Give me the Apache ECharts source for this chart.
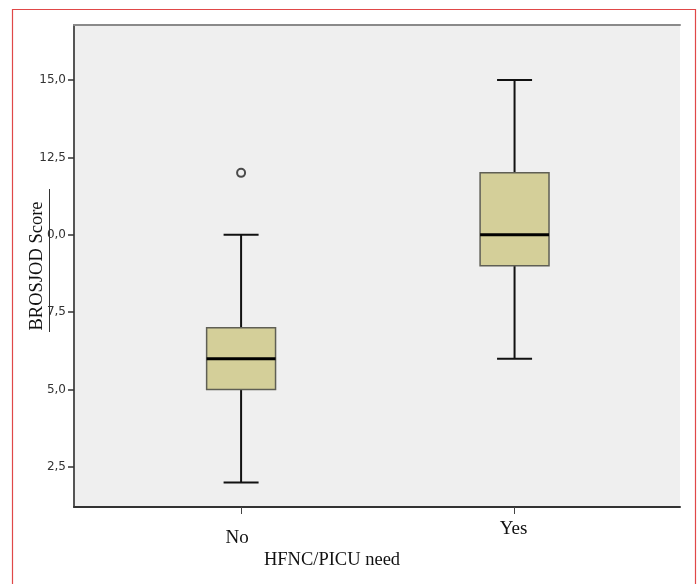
<!DOCTYPE html>
<html><head><meta charset="utf-8">
<script src="https://cdn.jsdelivr.net/npm/echarts@6/dist/echarts.min.js"></script>
<style>html,body{margin:0;padding:0;background:#fff}#c{width:698px;height:584px}</style>
</head><body><div id="c"></div>
<script>
// Data
const categories = ["No", "Yes"];
// [min, Q1, median, Q3, max]
const boxNo  = [2, 5, 6, 7, 10];
const boxYes = [6, 9, 10, 12, 15];
const outliers = [[0, 12]]; // [category index, value]
const yTickValues = [2.5, 5, 7.5, 10, 12.5, 15];
const yTickLabels = ["2,5", "5,0", "7,5", "0,0", "12,5", "15,0"];

const boxes = [boxNo, boxYes];
const boxData = boxes.map((b, i) => [i + 1].concat(b));
const outlierData = outliers.map(o => [o[0] + 1, o[1]]);

const chart = echarts.init(document.getElementById('c'), null, {renderer: 'canvas'});
const serif = '"Liberation Serif", "Times New Roman", serif';

function renderBox(params, api) {
  const x = api.value(0);
  const mn = api.value(1), q1 = api.value(2), med = api.value(3), q3 = api.value(4), mx = api.value(5);
  const bw = api.size([0.252, 0])[0];
  const cw = api.size([0.128, 0])[0];
  const pMin = api.coord([x, mn]), pQ1 = api.coord([x, q1]), pMed = api.coord([x, med]),
        pQ3 = api.coord([x, q3]), pMax = api.coord([x, mx]);
  const cx = pMin[0];
  const wl = {stroke: '#111', lineWidth: 2};
  return {
    type: 'group',
    children: [
      {type: 'line', shape: {x1: cx, y1: pMin[1], x2: cx, y2: pQ1[1]}, style: wl},
      {type: 'line', shape: {x1: cx, y1: pQ3[1], x2: cx, y2: pMax[1]}, style: wl},
      {type: 'line', shape: {x1: cx - cw / 2, y1: pMin[1], x2: cx + cw / 2, y2: pMin[1]}, style: wl},
      {type: 'line', shape: {x1: cx - cw / 2, y1: pMax[1], x2: cx + cw / 2, y2: pMax[1]}, style: wl},
      {type: 'rect', shape: {x: cx - bw / 2, y: pQ3[1], width: bw, height: pQ1[1] - pQ3[1]},
       style: {fill: '#D4CF99', stroke: '#5f5f55', lineWidth: 1.5}},
      {type: 'line', shape: {x1: cx - bw / 2, y1: pMed[1], x2: cx + bw / 2, y2: pMed[1]},
       style: {stroke: '#000', lineWidth: 3}}
    ]
  };
}

chart.setOption({
  animation: false,
  backgroundColor: '#fff',
  grid: {left: 74, top: 25, right: 18, bottom: 77, show: true, backgroundColor: '#EFEFEF', borderWidth: 0,
         containLabel: false, outerBoundsMode: 'none'},
  xAxis: [{
    type: 'value', min: 0.389, max: 2.605,
    axisLine: {show: true, onZero: false, lineStyle: {color: '#333', width: 2}},
    splitLine: {show: false},
    axisTick: {show: true, customValues: [1, 2], length: 7, lineStyle: {color: '#444', width: 1}},
    axisLabel: {
      customValues: [1, 2],
      formatter: v => {
        const i = Math.round(v) - 1;
        return i === 0 ? '{a|' + categories[i] + '}' : '{b|' + categories[i] + '}';
      },
      margin: 13,
      rich: {
        a: {fontFamily: serif, fontSize: 19, color: '#111', padding: [9, 8, 0, 0]},
        b: {fontFamily: serif, fontSize: 19, color: '#111', padding: [0, 2, 0, 0]}
      }
    },
    name: 'HFNC/PICU need', nameLocation: 'middle', nameGap: 44, nameMoveOverlap: false,
    nameTextStyle: {fontFamily: serif, fontSize: 18.5, color: '#111', padding: [0, 90, 0, 0]}
  }, {
    type: 'value', position: 'top', min: 0.389, max: 2.605,
    axisLine: {show: true, onZero: false, lineStyle: {color: '#8a8a8a', width: 2}},
    axisTick: {show: false}, axisLabel: {show: false}, splitLine: {show: false}
  }],
  yAxis: {
    type: 'value', min: 1.208, max: 16.776,
    axisLine: {show: true, onZero: false, lineStyle: {color: '#555', width: 2}},
    splitLine: {show: false},
    axisTick: {show: true, customValues: yTickValues, length: 6, lineStyle: {color: '#333', width: 1.5}},
    axisLabel: {
      customValues: yTickValues,
      formatter: v => {
        const i = yTickValues.findIndex(t => Math.abs(t - v) < 1e-6);
        return i >= 0 ? yTickLabels[i] : '';
      },
      margin: 8, fontFamily: '"DejaVu Sans", sans-serif', fontSize: 12, color: '#333'
    },
    name: 'BROSJOD Score', nameLocation: 'middle', nameGap: 27, nameRotate: 90, nameMoveOverlap: false,
    nameTextStyle: {fontFamily: serif, fontSize: 18.5, color: '#111'}
  },
  series: [{
    type: 'custom', renderItem: renderBox, data: boxData,
    encode: {x: 0, y: [1, 2, 3, 4, 5]}, z: 3
  }, {
    type: 'scatter', data: outlierData, symbol: 'circle', symbolSize: 8,
    itemStyle: {color: '#EFEFEF', borderColor: '#222', borderWidth: 2}, z: 4
  }],
  graphic: [
    {type: 'rect', shape: {x: 12.5, y: 9.5, width: 683, height: 600},
     style: {fill: null, stroke: '#E04848', lineWidth: 1.2}, silent: true},
    {type: 'line', shape: {x1: 49.5, y1: 189, x2: 49.5, y2: 332},
     style: {stroke: '#333', lineWidth: 1}, silent: true}
  ]
});
</script></body></html>
